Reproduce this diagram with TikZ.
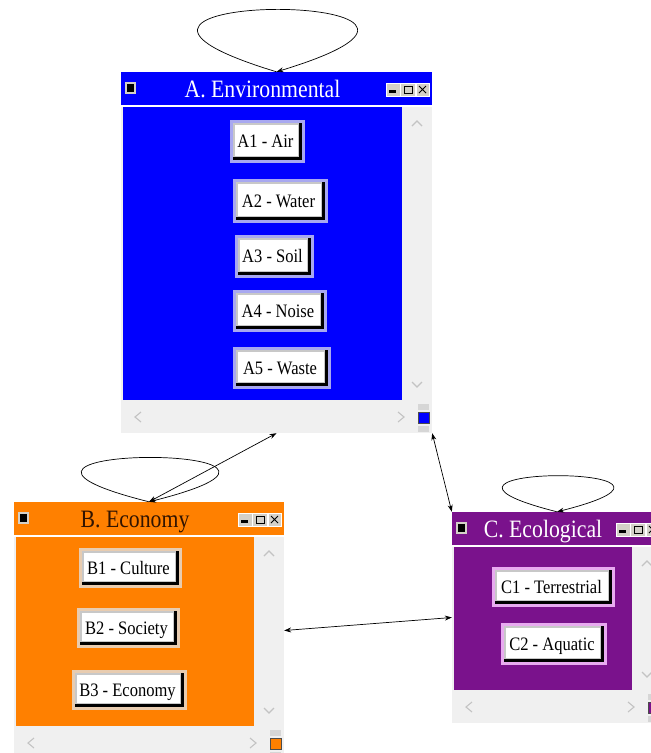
\documentclass[tikz,border=0pt]{standalone}
\usepackage{fontspec}
\setmainfont[FakeStretch=0.87]{Liberation Serif}
\usetikzlibrary{arrows.meta}

\definecolor{envblue}{RGB}{0,0,255}
\definecolor{ecoorange}{RGB}{255,128,0}
\definecolor{ecopurple}{RGB}{122,18,140}
\definecolor{panelgray}{RGB}{240,240,240}
\definecolor{chevgray}{RGB}{195,195,195}
\definecolor{thumbgray}{RGB}{214,214,214}
\definecolor{iconface}{RGB}{212,208,200}
\definecolor{btnedge}{RGB}{200,200,200}
\definecolor{tintblue}{RGB}{168,168,240}
\definecolor{tintorange}{RGB}{232,204,176}
\definecolor{tintpurple}{RGB}{232,170,240}
\definecolor{darktitle}{RGB}{50,20,0}

\tikzset{
  btnlabel/.style={inner sep=0pt, text height=12.5pt, text depth=0pt,
    font=\fontsize{19}{19}\selectfont},
  titlelabel/.style={inner sep=0pt, anchor=base, font=\fontsize{25}{25}\selectfont},
  chevron/.style={draw=chevgray, line width=1.1pt},
  iconbox/.style={fill=iconface, draw=white, line width=0.6pt},
  link/.style={draw=black, line width=0.7pt, {Stealth[length=7pt,width=5pt]}-{Stealth[length=7pt,width=5pt]}},
  selfloop/.style={draw=black, line width=0.7pt, -{Stealth[length=7pt,width=5pt]}},
}

% window: name, left, top, right, bottom, colour, title colour, title
\newcommand\appwindow[8]{%
  \fill[panelgray] (#2,#3) rectangle (#4,#5);
  \fill[#6] (#2,#3) rectangle (#4,#3+33);
  \fill[white] (#2,#3+33) rectangle (#4,#3+35);
  \fill[#6] (#2+2,#3+35) rectangle (#4-30,#5-33);
  % scroll arrows
  \draw[chevron] (#4-20,#3+54) -- (#4-15,#3+49) -- (#4-10,#3+54);
  \draw[chevron] (#4-20,#5-51) -- (#4-15,#5-46) -- (#4-10,#5-51);
  \draw[chevron] (#2+20,#5-21) -- (#2+14,#5-16) -- (#2+20,#5-11);
  \draw[chevron] (#4-34,#5-21) -- (#4-28,#5-16) -- (#4-34,#5-11);
  % corner grip
  \fill[thumbgray] (#4-14,#5-29) rectangle (#4-3,#5-23);
  \fill[thumbgray] (#4-14,#5-7) rectangle (#4-3,#5-1);
  \filldraw[fill=#6, draw=black!70, line width=0.5pt] (#4-14,#5-21) rectangle (#4-3,#5-10);
  % title bar icons
  \fill[iconface] (#2+4,#3+10) rectangle (#2+15,#3+22);
  \fill[black] (#2+6,#3+12) rectangle (#2+13,#3+20);
  \path[iconbox] (#4-46,#3+11) rectangle (#4-32,#3+24);
  \path[iconbox] (#4-32,#3+11) rectangle (#4-17,#3+24);
  \path[iconbox] (#4-16,#3+11) rectangle (#4-3,#3+24);
  \fill[black] (#4-43,#3+18) rectangle (#4-36,#3+21);
  \draw[black, line width=1pt] (#4-28,#3+14) rectangle (#4-20,#3+21);
  \draw[black, line width=1pt] (#4-13,#3+14) -- (#4-6,#3+21) (#4-13,#3+21) -- (#4-6,#3+14);
  \node[titlelabel, text=#7] at ({(#2+#4-28)/2},#3+25) {#8};
  \node[inner sep=0pt, minimum width={(#4-#2)*1pt}, minimum height={(#5-#3)*1pt}]
    (#1) at ({(#2+#4)/2},{(#3+#5)/2}) {};
}

% push button: name, left, top, right, bottom, rim colour, label
\newcommand\optbtn[7]{%
  \fill[#6] (#2,#3) rectangle (#4,#5);
  \fill[black] (#2+3,#3+3) rectangle (#4-3,#5-3);
  \fill[btnedge] (#2+3,#3+3) rectangle (#4-6,#5-6);
  \fill[white] (#2+5,#3+5) rectangle (#4-7,#5-7);
  \node[btnlabel] (#1) at ({(#2+#4)/2-2},{(#3+#5)/2}) {#7};
}

\begin{document}
\begin{tikzpicture}[x=1pt, y=-1pt]
  \path[use as bounding box] (0,0) rectangle (651,753);
  \clip (0,0) rectangle (651,753);
  \fill[white] (0,0) rectangle (651,753);

  % A. Environmental
  \appwindow{wa}{121}{72}{432}{433}{envblue}{white}{A. Environmental}
  \optbtn{a1}{230}{120}{305}{163}{tintblue}{A1 - Air}
  \optbtn{a2}{233}{179}{328}{223}{tintblue}{A2 - Water}
  \optbtn{a3}{235}{235}{314}{278}{tintblue}{A3 - Soil}
  \optbtn{a4}{233}{290}{327}{332}{tintblue}{A4 - Noise}
  \optbtn{a5}{233}{347}{331}{389}{tintblue}{A5 - Waste}

  % B. Economy
  \appwindow{wb}{14}{502}{284}{759}{ecoorange}{darktitle}{B. Economy}
  \optbtn{b1}{79}{548}{182}{588}{tintorange}{B1 - Culture}
  \optbtn{b2}{77}{608}{180}{648}{tintorange}{B2 - Society}
  \optbtn{b3}{72}{670}{187}{710}{tintorange}{B3 - Economy}

  % C. Ecological
  \appwindow{wc}{452}{512}{662}{723}{ecopurple}{white}{C. Ecological}
  \optbtn{c1}{492}{567}{615}{607}{tintpurple}{C1 - Terrestrial}
  \optbtn{c2}{501}{623}{607}{665}{tintpurple}{C2 - Aquatic}

  % connectors between windows
  \draw[link] (wa.south) -- (wb.north);
  \draw[link] (wa.south east) -- (wc.north west);
  \draw[link] (wb.east) -- (wc.west);

  % self loops
  \draw[selfloop] (wa.north) .. controls +(-274,-83) and +(274,-83) .. (wa.north);
  \draw[selfloop] (wb.north) .. controls +(-235,-59) and +(235,-59) .. (wb.north);
  \draw[selfloop] (wc.north) .. controls +(-190,-48) and +(190,-48) .. (wc.north);
\end{tikzpicture}
\end{document}
